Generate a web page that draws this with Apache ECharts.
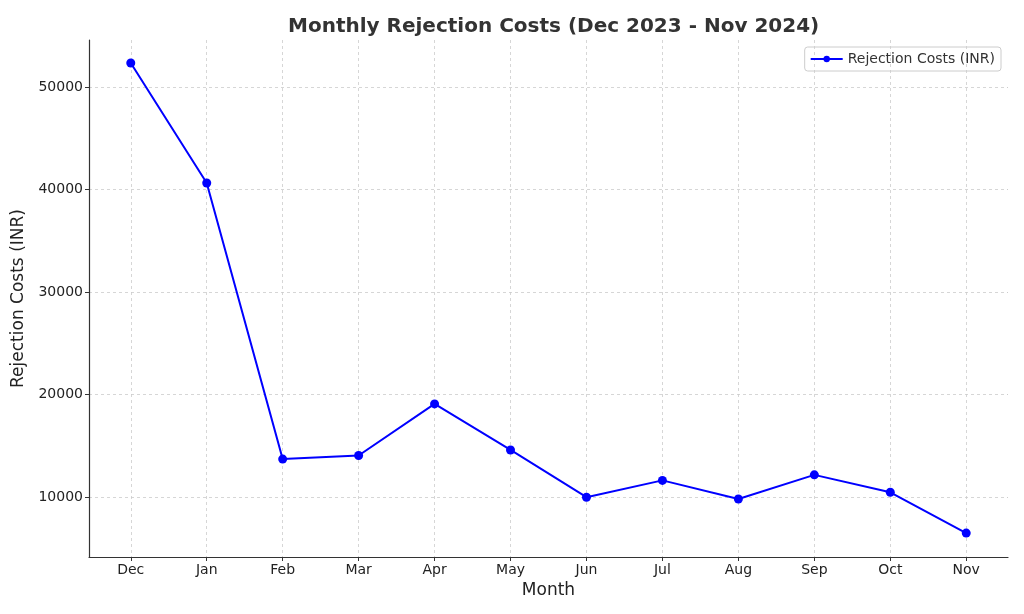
<!DOCTYPE html>
<html>
<head>
<meta charset="utf-8">
<script src="https://cdn.jsdelivr.net/npm/echarts@6/dist/echarts.min.js"></script>
<style>
  html, body { margin: 0; padding: 0; background: #fff; }
  #chart { width: 1024px; height: 614px; }
</style>
</head>
<body>
<div id="chart"></div>
<script>
const months = ["Dec", "Jan", "Feb", "Mar", "Apr", "May", "Jun", "Jul", "Aug", "Sep", "Oct", "Nov"];
const costs = [52340, 40630, 13700, 14050, 19080, 14590, 9980, 11620, 9810, 12160, 10460, 6480];
const yTicks = [10000, 20000, 30000, 40000, 50000];

const font = "DejaVu Sans";
const chart = echarts.init(document.getElementById("chart"));

const opt = {
  animation: false,
  title: {
    text: "Monthly Rejection Costs (Dec 2023 - Nov 2024)",
    left: 283,
    top: 12,
    textStyle: { fontFamily: font, fontSize: 20, fontWeight: "bold", color: "#333" }
  },
  legend: {
    right: 23,
    top: 47,
    data: ["Rejection Costs (INR)"],
    borderColor: "#ccc",
    borderWidth: 1,
    borderRadius: 3,
    padding: [5, 6, 5, 5],
    itemWidth: 32,
    itemGap: 8,
    itemHeight: 8,
    textStyle: { fontFamily: font, fontSize: 14, color: "#333" }
  },
  grid: { left: 89, right: 16, top: 40, bottom: 57 },
  xAxis: {
    type: "value",
    min: -0.55,
    max: 11.55,
    name: "Month",
    nameLocation: "middle",
    nameGap: 25,
    nameTextStyle: { fontFamily: font, fontSize: 17, color: "#222" },
    axisLine: { show: true, onZero: false, lineStyle: { color: "#333", width: 1.2 } },
    axisTick: { show: true, length: 4, lineStyle: { color: "#333" }, customValues: months.map((m, i) => i) },
    axisLabel: {
      customValues: months.map((m, i) => i),
      formatter: v => months[Math.round(v)],
      fontFamily: font, fontSize: 14, color: "#222", margin: 6
    },
    splitLine: { show: true, lineStyle: { color: "#ccc", type: [3, 3], width: 0.8 } }
  },
  yAxis: {
    type: "value",
    min: 4146,
    max: 54585,
    name: "Rejection Costs (INR)",
    nameLocation: "middle",
    nameGap: 58,
    nameTextStyle: { fontFamily: font, fontSize: 17, color: "#222" },
    axisLine: { show: true, onZero: false, lineStyle: { color: "#333", width: 1.2 } },
    axisTick: { show: true, length: 4, lineStyle: { color: "#333" }, customValues: yTicks },
    axisLabel: {
      customValues: yTicks,
      formatter: v => String(v),
      fontFamily: font, fontSize: 14, color: "#222", margin: 6
    },
    splitLine: { show: true, lineStyle: { color: "#ccc", type: [3, 3], width: 0.8 } }
  },
  series: [{
    name: "Rejection Costs (INR)",
    type: "line",
    data: costs.map((c, i) => [i, c]),
    symbol: "circle",
    symbolSize: 9,
    color: "#0000ff",
    lineStyle: { width: 2, color: "#0000ff" },
    itemStyle: { color: "#0000ff" }
  }]
};
chart.setOption(opt);
</script>
</body>
</html>
